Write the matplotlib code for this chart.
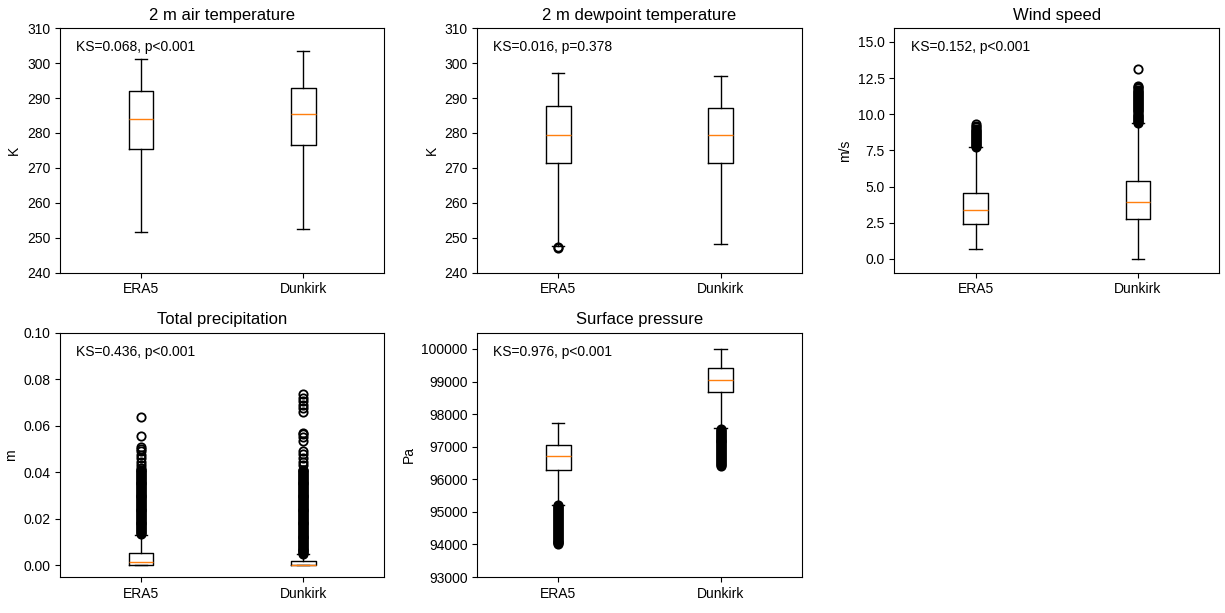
import numpy as np
import matplotlib
matplotlib.use('Agg')
from matplotlib import pyplot as plt

plt.rcParams['font.family'] = ['Liberation Sans', 'DejaVu Sans']
plt.rcParams['font.size'] = 10

labels = ['ERA5', 'Dunkirk']
titles = ['2 m air temperature', '2 m dewpoint temperature', 'Wind speed',
          'Total precipitation', 'Surface pressure']
units = ['K', 'K', 'm/s', 'm', 'Pa']
ks_text = ['KS=0.068, p<0.001', 'KS=0.016, p=0.378', 'KS=0.152, p<0.001',
           'KS=0.436, p<0.001', 'KS=0.976, p<0.001']

# box stats: [whislo, q1, med, q3, whishi]
t2m_era5 = [251.7, 275.3, 284.1, 292.0, 301.1]
t2m_dunk = [252.6, 276.5, 285.4, 292.9, 303.5]
d2m_era5 = [247.7, 271.4, 279.4, 287.6, 297.3]
d2m_dunk = [248.2, 271.5, 279.3, 287.2, 296.3]
ws_era5 = [0.67, 2.41, 3.38, 4.54, 7.70]
ws_dunk = [0.0, 2.73, 3.96, 5.39, 9.38]
tp_era5 = [0.0, 0.0, 0.0013, 0.0053, 0.0132]
tp_dunk = [0.0, 0.0, 0.0001, 0.0020, 0.0047]
sp_era5 = [95200, 96300, 96700, 97038, 97735]
sp_dunk = [97560, 98678, 99037, 99416, 100000]

# outliers (the dark columns are thousands of points, read as a dense run)
t2m_era5_out = []
t2m_dunk_out = []
d2m_era5_out = [247.3, 246.9]
d2m_dunk_out = []
ws_era5_out = [7.75, 7.82, 7.89, 7.96, 8.03, 8.10, 8.17, 8.24, 8.31, 8.38,
               8.45, 8.52, 8.59, 8.66, 8.73, 8.80, 8.87, 8.94, 9.01,
               9.12, 9.22, 9.30]
ws_dunk_out = [9.42, 9.49, 9.56, 9.63, 9.70, 9.77, 9.84, 9.91, 9.98, 10.05,
               10.12, 10.19, 10.26, 10.33, 10.40, 10.47, 10.54, 10.61, 10.68,
               10.75, 10.82, 10.89, 10.96, 11.03, 11.10, 11.17, 11.24, 11.31,
               11.38, 11.45, 11.52, 11.59, 11.66, 11.78, 11.90, 11.98, 13.15]
tp_era5_out = [0.0136, 0.0140, 0.0144, 0.0148, 0.0152, 0.0156, 0.0160,
               0.0164, 0.0168, 0.0172, 0.0176, 0.0180, 0.0184, 0.0188,
               0.0192, 0.0196, 0.0200, 0.0204, 0.0208, 0.0212, 0.0216,
               0.0220, 0.0224, 0.0228, 0.0232, 0.0236, 0.0240, 0.0244,
               0.0248, 0.0252, 0.0256, 0.0260, 0.0264, 0.0268, 0.0272,
               0.0276, 0.0280, 0.0284, 0.0288, 0.0292, 0.0296, 0.0300,
               0.0304, 0.0308, 0.0312, 0.0316, 0.0320, 0.0324, 0.0328,
               0.0332, 0.0336, 0.0340, 0.0344, 0.0348, 0.0352, 0.0356,
               0.0360, 0.0364, 0.0368, 0.0372, 0.0376, 0.0380, 0.0384,
               0.0388, 0.0392, 0.0396, 0.0400, 0.0404, 0.0408, 0.0412,
               0.042, 0.043, 0.0445, 0.046, 0.0475, 0.049, 0.050, 0.051,
               0.0558, 0.0637]
tp_dunk_out = [0.0048, 0.0052, 0.0056, 0.0060, 0.0064, 0.0068, 0.0072,
               0.0076, 0.0080, 0.0084, 0.0088, 0.0092, 0.0096, 0.0100,
               0.0104, 0.0108, 0.0112, 0.0116, 0.0120, 0.0124, 0.0128,
               0.0132, 0.0136, 0.0140, 0.0144, 0.0148, 0.0152, 0.0156,
               0.0160, 0.0164, 0.0168, 0.0172, 0.0176, 0.0180, 0.0184,
               0.0188, 0.0192, 0.0196, 0.0200, 0.0204, 0.0208, 0.0212,
               0.0216, 0.0220, 0.0224, 0.0228, 0.0232, 0.0236, 0.0240,
               0.0244, 0.0248, 0.0252, 0.0256, 0.0260, 0.0264, 0.0268,
               0.0272, 0.0276, 0.0280, 0.0284, 0.0288, 0.0292, 0.0296,
               0.0300, 0.0304, 0.0308, 0.0312, 0.0316, 0.0320, 0.0324,
               0.0328, 0.0332, 0.0336, 0.0340, 0.0344, 0.0348, 0.0352,
               0.0356, 0.0360, 0.0364, 0.0368, 0.0372, 0.0376, 0.0380,
               0.0384, 0.0388, 0.0392, 0.0396, 0.0400, 0.0404, 0.0408,
               0.0412, 0.043, 0.0445, 0.046, 0.048, 0.049, 0.0535, 0.055,
               0.0565, 0.057, 0.066, 0.0675, 0.069, 0.0705, 0.072, 0.0735]
sp_era5_out = [95200, 95170, 95140, 95110, 95080, 95050, 95020, 94990,
               94960, 94930, 94900, 94870, 94840, 94810, 94780, 94750,
               94720, 94690, 94660, 94630, 94600, 94570, 94540, 94510,
               94480, 94450, 94420, 94390, 94360, 94330, 94300, 94270,
               94240, 94210, 94180, 94150, 94120, 94090, 94060, 94030,
               94000]
sp_dunk_out = [97550, 97520, 97490, 97460, 97430, 97400, 97370, 97340,
               97310, 97280, 97250, 97220, 97190, 97160, 97130, 97100,
               97070, 97040, 97010, 96980, 96950, 96920, 96890, 96860,
               96830, 96800, 96770, 96740, 96710, 96680, 96650, 96620,
               96590, 96560, 96530, 96500, 96470, 96440, 96400]

stats = [(t2m_era5, t2m_era5_out, t2m_dunk, t2m_dunk_out),
         (d2m_era5, d2m_era5_out, d2m_dunk, d2m_dunk_out),
         (ws_era5, ws_era5_out, ws_dunk, ws_dunk_out),
         (tp_era5, tp_era5_out, tp_dunk, tp_dunk_out),
         (sp_era5, sp_era5_out, sp_dunk, sp_dunk_out)]

ylims = [(240, 310), (240, 310), (-0.95, 15.95), (-0.005, 0.10), (93000, 100500)]
yticks = [[240, 250, 260, 270, 280, 290, 300, 310],
          [240, 250, 260, 270, 280, 290, 300, 310],
          [0.0, 2.5, 5.0, 7.5, 10.0, 12.5, 15.0],
          [0.00, 0.02, 0.04, 0.06, 0.08, 0.10],
          [93000, 94000, 95000, 96000, 97000, 98000, 99000, 100000]]


def make_stat(s, out, label):
    return {'whislo': s[0], 'q1': s[1], 'med': s[2], 'q3': s[3],
            'whishi': s[4], 'fliers': out, 'label': label}


fig, axes = plt.subplots(2, 3, figsize=(12.25, 6.13), dpi=100)
axes = axes.ravel()
for i in range(5):
    ax = axes[i]
    a, a_out, b, b_out = stats[i]
    bxp = [make_stat(a, a_out, labels[0]), make_stat(b, b_out, labels[1])]
    ax.bxp(bxp, positions=[1, 2], flierprops=dict(markeredgewidth=1.3))
    ax.set_title(titles[i], fontsize=12)
    ax.set_ylabel(units[i])
    ax.set_ylim(ylims[i])
    ax.set_yticks(yticks[i])
    ax.text(0.05, 0.95, ks_text[i], transform=ax.transAxes, va='top', ha='left')
axes[5].axis('off')

plt.subplots_adjust(left=0.049, right=0.995, top=0.954, bottom=0.0587,
                    wspace=0.286, hspace=0.246)
plt.savefig('out.png')
